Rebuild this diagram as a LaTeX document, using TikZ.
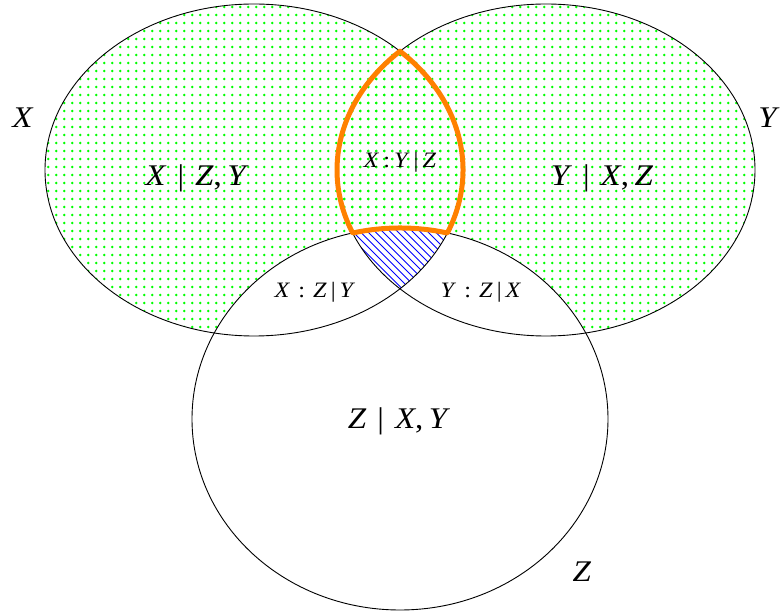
\documentclass[tikz,border=0pt]{standalone}
\usepackage{fontspec}
\setmainfont{Liberation Serif}
\definecolor{dotgreen}{RGB}{0,255,0}
\definecolor{lensorange}{RGB}{255,128,0}
\tikzset{
  outline/.style={draw=black, line width=0.9pt},
  greendot/.style={fill=dotgreen},
  hatchline/.style={draw=blue, line width=0.8pt},
  biglabel/.style={font=\fontsize{30}{34}\selectfont, inner sep=0pt},
  smalllabel/.style={font=\fontsize{22}{26}\selectfont, inner sep=0pt},
  lens/.style={draw=lensorange, line width=5pt, line join=round},
}
\newcommand{\iv}[1]{\textit{#1}}
\newcommand{\wide}[1]{\scalebox{1.1}[1]{#1}}
\begin{document}
\begin{tikzpicture}[x=1pt,y=1pt]
\useasboundingbox (0,0) rectangle (780,614);
% centres (y measured upward)
\coordinate (cX) at (254,444);
\coordinate (cY) at (546,444);
\coordinate (cZ) at (400,195);
\coordinate (top) at (400,562.78);
% green dots on X
\begin{scope}
  \clip (cX) ellipse [x radius=209pt, y radius=166pt];
  \foreach \i in {40.3,48.3,...,470} {
    \foreach \j in {271,279,...,615} {
      \fill[greendot] (\i,\j) circle (1.4pt);
    }
  }
\end{scope}
% green dots on Y
\begin{scope}
  \clip (cY) ellipse [x radius=209pt, y radius=166pt];
  \foreach \i in {328.3,336.3,...,760} {
    \foreach \j in {271,279,...,615} {
      \fill[greendot] (\i,\j) circle (1.4pt);
    }
  }
\end{scope}
% Z blanks out the dots
\fill[white] (cZ) ellipse [x radius=208pt, y radius=191pt];
% hatched triple intersection
\begin{scope}
  \clip (cX) ellipse [x radius=209pt, y radius=166pt];
  \clip (cY) ellipse [x radius=209pt, y radius=166pt];
  \clip (cZ) ellipse [x radius=208pt, y radius=191pt];
  \foreach \c in {660,667.5,...,845} {
    \draw[hatchline] (\c-410,410) -- (\c-290,290);
  }
\end{scope}
% outlines
\draw[outline] (cX) ellipse [x radius=209pt, y radius=166pt];
\draw[outline] (cY) ellipse [x radius=209pt, y radius=166pt];
\draw[outline] (cZ) ellipse [x radius=208pt, y radius=191pt];
% orange lens X and Y without Z
\draw[lens] (top)
  arc[start angle=134.32, end angle=202.31, x radius=209pt, y radius=166pt]
  arc[start angle=103.16, end angle=76.84, x radius=208pt, y radius=191pt]
  arc[start angle=-22.31, end angle=45.68, x radius=209pt, y radius=166pt]
  -- cycle;
% labels
\node[biglabel] (lX) at (23,496) {\wide{\iv{X}}};
\node[biglabel] (lY) at (769,496) {\wide{\iv{Y}}};
\node[biglabel] (lZ) at (582,42) {\wide{\iv{Z}}};
\node[biglabel] (lXZY) at (197,436) {\wide{\iv{X}\,\,|\,\,\iv{Z},\,\iv{Y}}};
\node[biglabel] (lYXZ) at (602,436) {\wide{\iv{Y}\,\,|\,\,\iv{X},\,\iv{Z}}};
\node[biglabel] (lZXY) at (399,193) {\wide{\iv{Z}\,\,|\,\,\iv{X},\,\iv{Y}}};
\node[smalllabel] (lXYZ) at (400,452) {\wide{\iv{X}\,:\,\iv{Y}\,|\,\iv{Z}}};
\node[smalllabel] (lXZgY) at (315,322) {\wide{\iv{X}\,\,:\,\,\iv{Z}\,|\,\iv{Y}}};
\node[smalllabel] (lYZgX) at (481,322) {\wide{\iv{Y}\,\,:\,\,\iv{Z}\,|\,\iv{X}}};
\end{tikzpicture}
\end{document}
